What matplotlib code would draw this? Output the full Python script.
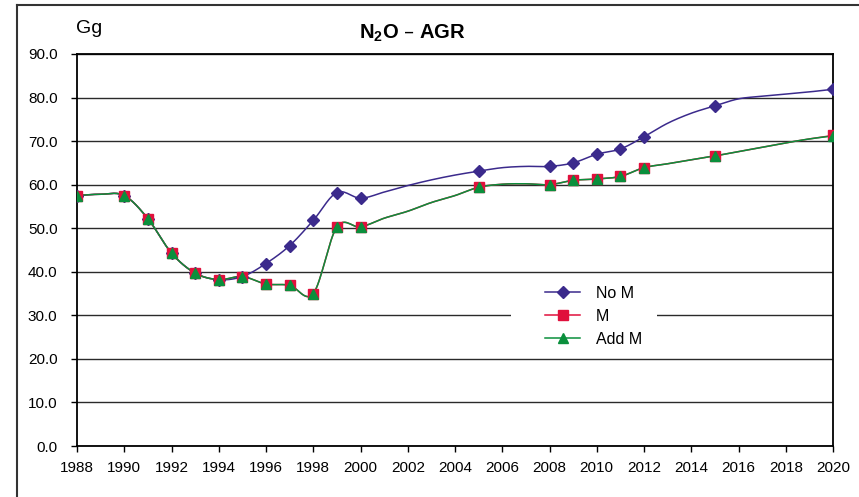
import matplotlib
matplotlib.use("Agg")
import matplotlib.pyplot as plt
import numpy as np
from matplotlib.patches import Rectangle
from matplotlib.lines import Line2D

plt.rcParams['font.family'] = ['Liberation Sans', 'DejaVu Sans']
plt.rcParams['mathtext.default'] = 'regular'

# Data
#------------------------------------
years = list(range(1988, 2021))
no_m = [57.5, 57.8, 57.5, 52.2, 44.3, 39.7, 38.2, 38.9, 41.9, 46.0, 51.8, 58.2, 56.9,
        58.3, 59.8, 61.1, 62.2, 63.1, 63.9, 64.2, 64.2, 65.0, 67.0, 68.2, 71.0,
        74.1, 76.4, 78.1, 79.7, 80.3, 80.8, 81.3, 81.9]
m_vals = [57.5, 57.8, 57.5, 52.2, 44.3, 39.7, 38.2, 38.9, 37.2, 36.9, 35.0, 50.3, 50.3,
          52.3, 53.9, 55.9, 57.5, 59.4, 60.1, 60.2, 60.0, 61.0, 61.3, 61.9, 63.9,
          64.8, 65.7, 66.6, 67.6, 68.6, 69.6, 70.5, 71.3]
add_m = [57.5, 57.8, 57.5, 52.2, 44.3, 39.7, 38.2, 38.9, 37.2, 36.9, 35.0, 50.3, 50.3,
         52.3, 53.9, 55.9, 57.5, 59.4, 60.1, 60.2, 60.0, 61.0, 61.3, 61.9, 63.9,
         64.8, 65.7, 66.6, 67.6, 68.6, 69.6, 70.5, 71.2]
marked_years = [1988, 1990, 1991, 1992, 1993, 1994, 1995, 1996, 1997, 1998, 1999, 2000,
                2005, 2008, 2009, 2010, 2011, 2012, 2015, 2020]


def smooth(x, y, n=16):
    # Catmull-Rom curve through the points, like Excel's smoothed lines
    x = np.asarray(x, float)
    y = np.asarray(y, float)
    px = np.concatenate([[2 * x[0] - x[1]], x, [2 * x[-1] - x[-2]]])
    py = np.concatenate([[2 * y[0] - y[1]], y, [2 * y[-1] - y[-2]]])
    t = np.linspace(0, 1, n, endpoint=False)
    xs, ys = [], []
    for i in range(1, len(px) - 2):
        for p, out in ((px, xs), (py, ys)):
            p0, p1, p2, p3 = p[i - 1], p[i], p[i + 1], p[i + 2]
            out.extend(0.5 * (2 * p1 + (-p0 + p2) * t + (2 * p0 - 5 * p1 + 4 * p2 - p3) * t ** 2
                              + (-p0 + 3 * p1 - 3 * p2 + p3) * t ** 3))
    xs.append(x[-1])
    ys.append(y[-1])
    return xs, ys


W, H = 859, 497
fig = plt.figure(figsize=(W / 100, H / 100), dpi=100)
ax = fig.add_axes([77 / W, 1 - 446 / H, (833 - 77) / W, (446 - 54) / H])

series = [('No M', no_m, '#3B2A8C', 'D', 6.5),
          ('M', m_vals, '#E0103C', 's', 6.5),
          ('Add M', add_m, '#0A8F3C', '^', 7.5)]

handles = []
for name, vals, col, mk, ms in series:
    sx, sy = smooth(years, vals)
    ax.plot(sx, sy, color=col, lw=1.1, zorder=3)
    mx = [y for y in years if y in marked_years]
    my = [v for y, v in zip(years, vals) if y in marked_years]
    ax.plot(mx, my, linestyle='none', marker=mk, ms=ms, color=col, mec=col, zorder=4)
    handles.append(Line2D([], [], color=col, lw=1.1, marker=mk, ms=ms, mec=col))

ax.set_xlim(1988, 2020)
ax.set_ylim(0, 90)
ax.set_xticks(range(1988, 2021, 2))
ax.set_yticks(range(0, 91, 10))
ax.set_yticklabels(['%.1f' % v for v in range(0, 91, 10)])
ax.grid(axis='y', color='#2a2a2a', lw=1.0)
ax.set_axisbelow(True)
ax.tick_params(axis='both', direction='out', length=4, width=1, color='black', labelsize=11)
ax.tick_params(axis='x', pad=7)
ax.tick_params(axis='y', pad=10)
for s in ax.spines.values():
    s.set_linewidth(1.3)
    s.set_color('black')

# white patch behind the legend hides part of the 30.0 grid line
ax.add_patch(Rectangle((511 / W, 1 - 332 / H), 146 / W, 30 / H, transform=fig.transFigure,
                       facecolor='white', edgecolor='none', zorder=1))

fig.legend(handles, [s[0] for s in series], loc='upper left',
           bbox_to_anchor=(545 / W, 1 - 286 / H), frameon=False, fontsize=11.5,
           handlelength=2.2, handletextpad=1.0, labelspacing=0.5, borderpad=0, borderaxespad=0)

fig.text(412 / W, 1 - 39 / H, 'N$_2$O – AGR', ha='center', va='baseline',
         fontsize=14.5, fontweight='bold')
fig.text(76 / W, 1 - 33 / H, 'Gg', ha='left', va='baseline', fontsize=14)

# outer chart border
fig.add_artist(Line2D([17 / W, 17 / W], [0, 1 - 5 / H], color='#333333', lw=1.5))
fig.add_artist(Line2D([17 / W, 1], [1 - 5 / H, 1 - 5 / H], color='#333333', lw=1.5))

fig.savefig('out.png', dpi=100)
